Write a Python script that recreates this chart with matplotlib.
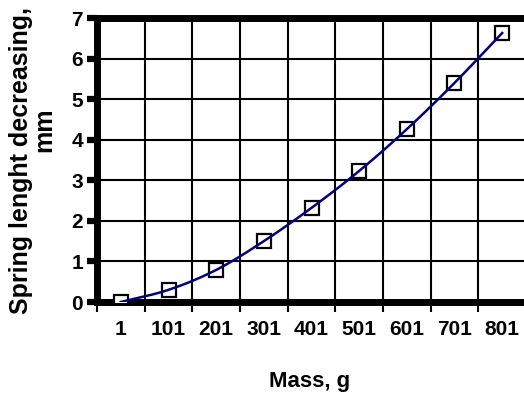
import numpy as np
import matplotlib
matplotlib.use('Agg')
import matplotlib.pyplot as plt

plt.rcParams['font.family'] = ['Liberation Sans', 'DejaVu Sans']
plt.rcParams['font.weight'] = 'bold'

# data
mass = ['1', '101', '201', '301', '401', '501', '601', '701', '801']
decrease = [0.0, 0.30, 0.79, 1.50, 2.32, 3.23, 4.26, 5.40, 6.63]

xpos = np.arange(len(mass))
yv = np.array(decrease)

fig = plt.figure(figsize=(5.24, 3.97), dpi=100)
ax = fig.add_axes([97/524, 1 - 302/397, (526 - 97)/524, (302 - 18)/397])

ax.set_xlim(-0.5, len(mass) - 0.5)
ax.set_ylim(0, 7)

# grid
for k in range(len(mass) + 1):
    ax.axvline(k - 0.5, color='black', lw=1.5, zorder=1)
for v in range(1, 7):
    ax.axhline(v, color='black', lw=1.5, zorder=1)

# markers
ax.plot(xpos, yv, ls='none', marker='s', ms=10, mfc='white',
        mec='black', mew=1.6, zorder=3)

# smoothed line through the points (catmull-rom, like excel "smoothed line")
pts = np.column_stack([xpos, yv]).astype(float)
ext = np.vstack([2*pts[0] - pts[1], pts, 2*pts[-1] - pts[-2]])
t = np.linspace(0, 1, 30)[:, None]
seg = []
for i in range(1, len(ext) - 2):
    p0, p1, p2, p3 = ext[i-1], ext[i], ext[i+1], ext[i+2]
    seg.append(0.5*((2*p1) + (-p0 + p2)*t + (2*p0 - 5*p1 + 4*p2 - p3)*t**2
                    + (-p0 + 3*p1 - 3*p2 + p3)*t**3))
curve = np.vstack(seg)
ax.plot(curve[:, 0], curve[:, 1], color='#000080', lw=1.8, zorder=4)

for s in ['left', 'bottom', 'top']:
    ax.spines[s].set_linewidth(5)
ax.spines['right'].set_visible(False)

ax.set_yticks(range(0, 8))
ax.tick_params(axis='y', direction='out', length=7, width=4.5, pad=3,
               labelsize=15)
ax.set_xticks(np.arange(len(mass) + 1) - 0.5)
ax.set_xticklabels([])
ax.tick_params(axis='x', which='major', direction='out', length=7, width=1.5)
ax.set_xticks(xpos, minor=True)
ax.set_xticklabels(mass, minor=True)
ax.tick_params(axis='x', which='minor', length=0, pad=13, labelsize=15)
for lab in ax.get_xticklabels(minor=True) + ax.get_yticklabels():
    lab.set_fontweight('bold')

fig.text(310/524, 1 - 381/397, 'Mass, g', ha='center', va='center',
         fontsize=16, fontweight='bold')
fig.text(21/524, 1 - 161/397, 'Spring lenght decreasing,', rotation=90,
         ha='center', va='center', fontsize=18, fontweight='bold')
fig.text(44/524, 1 - 130/397, 'mm', rotation=90, ha='center', va='center',
         fontsize=18, fontweight='bold')

fig.savefig('out.png', dpi=100)
